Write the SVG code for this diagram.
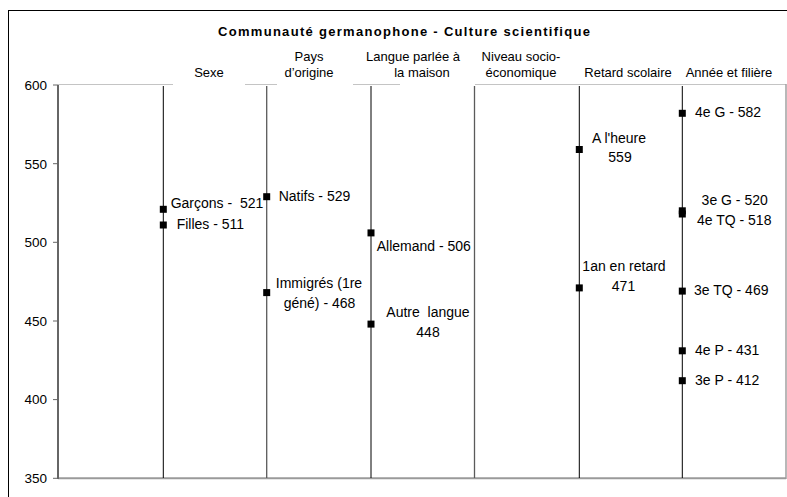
<svg xmlns="http://www.w3.org/2000/svg" width="787" height="497" viewBox="0 0 787 497">
<style>
text{font-family:"Liberation Sans",Arial,sans-serif;fill:#000}
.t{font-size:13px;font-weight:bold}
.h{font-size:13px;text-anchor:middle}
.y{font-size:13.5px;text-anchor:end}
.d{font-size:14px}
.c{text-anchor:middle}
.pt{fill:#000}
.blk{stroke:#000;stroke-width:1}
.gry{stroke:#5a5a5a;stroke-width:1.3}
</style>
<defs>
<rect id="sq" x="-3.5" y="-3.5" width="7" height="7" class="pt"/>
</defs>
<rect x="0" y="0" width="787" height="497" fill="#fff"/>
<rect x="8.5" y="10.5" width="800" height="500" fill="none" stroke="#000" stroke-width="1"/>
<text class="t" x="218" y="35.5" textLength="372" lengthAdjust="spacing">Communauté germanophone - Culture scientifique</text>

<g id="frame">
<path d="M58 84.5H173M245 84.5H277M353 84.5H400M475 84.5H786" stroke="#c4c4c4" stroke-width="1" fill="none"/>
<line x1="786" y1="84" x2="786" y2="479" stroke="#a0a0a0" stroke-width="1.5"/>
<line x1="58" y1="478.3" x2="786" y2="478.3" stroke="#9a9a9a" stroke-width="2"/>
<line x1="58" y1="85" x2="58" y2="479" stroke="#666" stroke-width="2"/>
<path d="M53 85H58M53 163.7H58M53 242.3H58M53 321H58M53 399.6H58M53 478.3H58" stroke="#666" stroke-width="1"/>
</g>
<g id="yaxis-labels">
<text class="y" x="47" y="89.8">600</text>
<text class="y" x="47" y="168.5">550</text>
<text class="y" x="47" y="247.1">500</text>
<text class="y" x="47" y="325.8">450</text>
<text class="y" x="47" y="404.4">400</text>
<text class="y" x="47" y="483.1">350</text>
</g>

<g id="connectors">
<line class="blk" x1="163.3" y1="86" x2="163.3" y2="478"/>
<line class="gry" x1="266.7" y1="86" x2="266.7" y2="478"/>
<line class="blk" x1="371" y1="86" x2="371" y2="478"/>
<line class="gry" x1="474.5" y1="86" x2="474.5" y2="478"/>
<line class="blk" x1="579.3" y1="86" x2="579.3" y2="478"/>
<line class="blk" x1="682.3" y1="86" x2="682.3" y2="478"/>
</g>

<g id="headers">
<text class="h" x="209" y="77">Sexe</text>
<text class="h" x="309" y="61">Pays</text>
<text class="h" x="309" y="77">d’origine</text>
<text class="h" x="413" y="61">Langue parlée à</text>
<text class="h" x="422" y="77">la maison</text>
<text class="h" x="521" y="61">Niveau socio-</text>
<text class="h" x="521" y="77">économique</text>
<text class="h" x="628" y="77">Retard scolaire</text>
<text class="h" x="729" y="77">Année et filière</text>
</g>

<g id="garcons"><use href="#sq" x="163.3" y="209.3"/><text class="d" x="170.7" y="208.3" xml:space="preserve">Garçons -  521</text></g>
<g id="filles"><use href="#sq" x="163.3" y="225"/><text class="d" x="176.7" y="229.3">Filles - 511</text></g>
<g id="natifs"><use href="#sq" x="266.7" y="196.7"/><text class="d" x="278.7" y="201">Natifs - 529</text></g>
<g id="immigres"><use href="#sq" x="266.7" y="292.6"/><text class="d c" x="319" y="288.3">Immigrés (1re</text><text class="d c" x="319.5" y="308.3">géné) - 468</text></g>
<g id="allemand"><use href="#sq" x="371" y="232.9"/><text class="d" x="376.7" y="251">Allemand - 506</text></g>
<g id="autre"><use href="#sq" x="371" y="324.1"/><text class="d c" x="428" y="316.7" xml:space="preserve">Autre  langue</text><text class="d c" x="428" y="337.3">448</text></g>
<g id="alheure"><use href="#sq" x="579.3" y="149.5"/><text class="d c" x="619" y="143.3">A l'heure</text><text class="d c" x="620" y="161.7">559</text></g>
<g id="retard"><use href="#sq" x="579.3" y="287.9"/><text class="d c" x="624" y="271">1an en retard</text><text class="d c" x="623.5" y="290.7">471</text></g>
<g id="4eG"><use href="#sq" x="682.3" y="113.3"/><text class="d" x="695" y="116.7">4e G - 582</text></g>
<g id="3eG"><use href="#sq" x="682.3" y="210.8"/><text class="d c" x="734.7" y="205">3e G - 520</text></g>
<g id="4eTQ"><use href="#sq" x="682.3" y="214"/><text class="d c" x="734.2" y="225">4e TQ - 518</text></g>
<g id="3eTQ"><use href="#sq" x="682.3" y="291.1"/><text class="d" x="694" y="295">3e TQ - 469</text></g>
<g id="4eP"><use href="#sq" x="682.3" y="350.8"/><text class="d" x="695" y="355">4e P - 431</text></g>
<g id="3eP"><use href="#sq" x="682.3" y="380.7"/><text class="d" x="695" y="385">3e P - 412</text></g>
</svg>
